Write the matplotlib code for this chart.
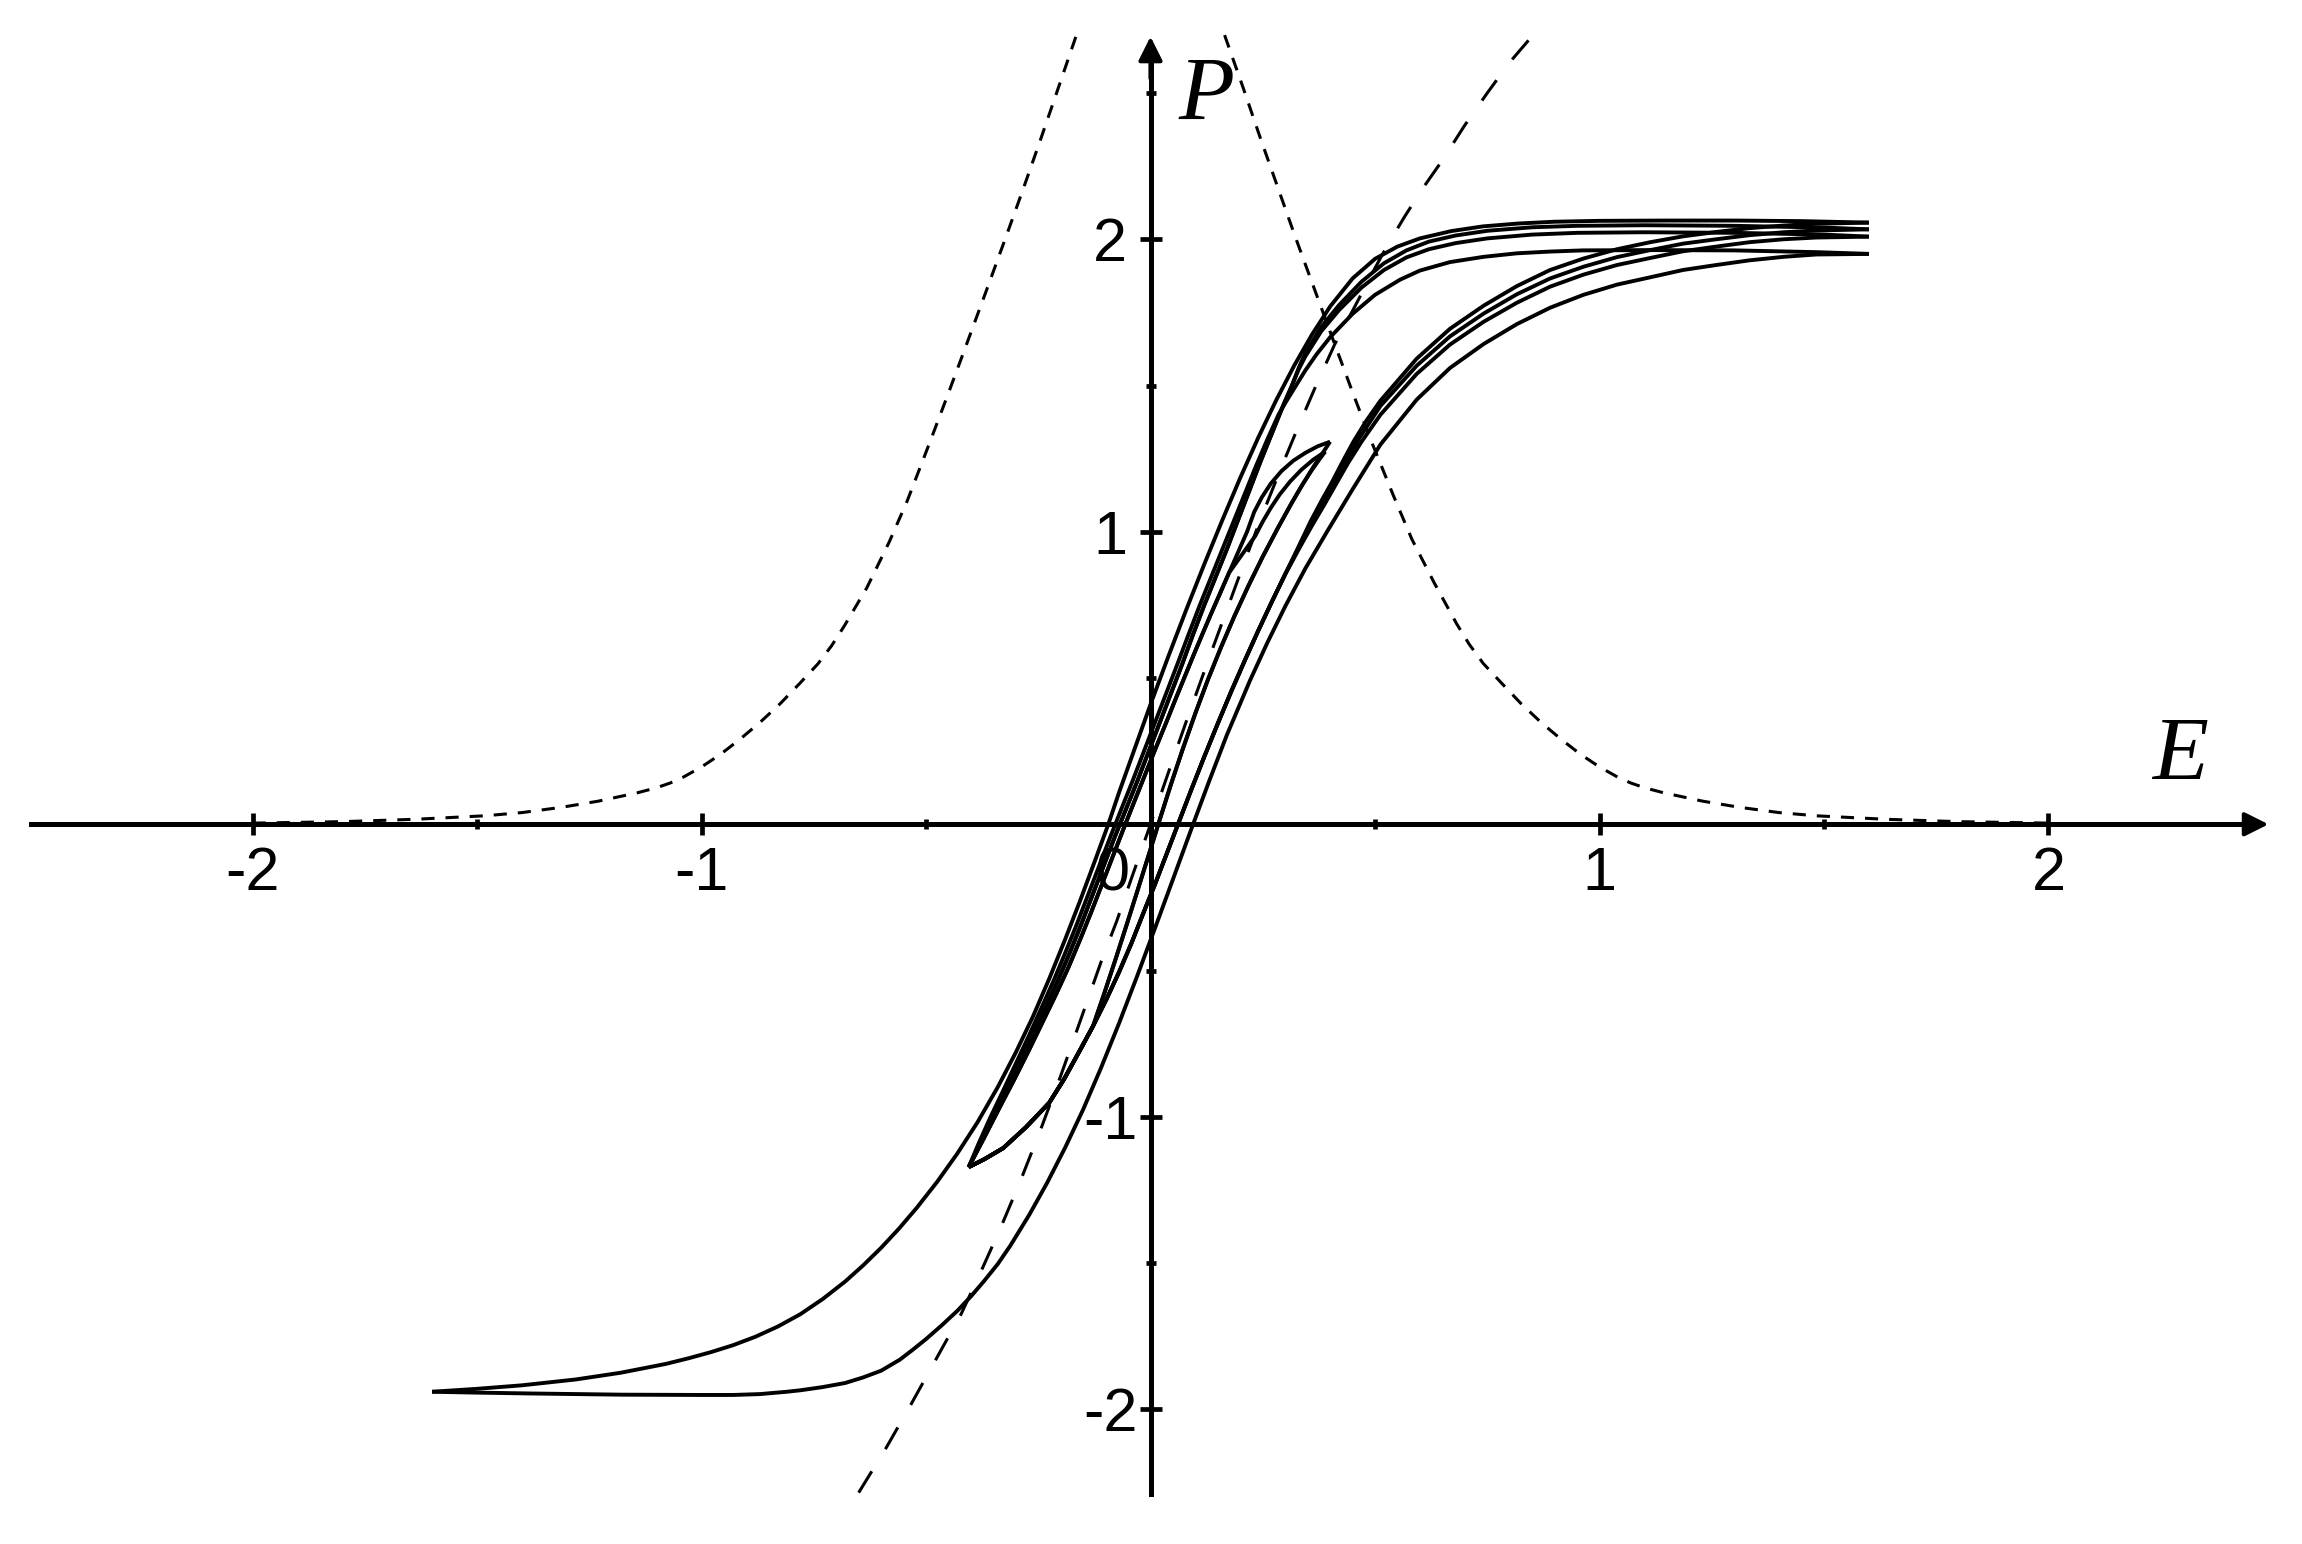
import matplotlib
matplotlib.use("Agg")
import matplotlib.pyplot as plt

plt.rcParams['font.family'] = ['Liberation Sans', 'DejaVu Sans']
plt.rcParams['axes.unicode_minus'] = False

# ---- values, as (E, P) ----

# short-dashed bell curve (its top runs off the P axis)
bell_left_E = [-2.000, -1.800, -1.639, -1.483, -1.400, -1.312, -1.230, -1.142, -1.100, -1.070,
               -1.042, -1.000, -0.957, -0.915, -0.870, -0.825, -0.781, -0.741, -0.710, -0.682,
               -0.632, -0.582, -0.542, -0.493, -0.453, -0.413, -0.365, -0.322, -0.284, -0.246,
               -0.207, -0.165]
bell_left_P = [0.004, 0.009, 0.017, 0.029, 0.040, 0.058, 0.079, 0.108, 0.125, 0.141,
               0.160, 0.196, 0.240, 0.290, 0.348, 0.412, 0.482, 0.548, 0.611, 0.678,
               0.808, 0.965, 1.105, 1.300, 1.462, 1.627, 1.827, 2.008, 2.170, 2.336,
               2.510, 2.698]
bell_right_E = [0.165, 0.207, 0.246, 0.284, 0.322, 0.365, 0.413, 0.453, 0.493, 0.542,
                0.582, 0.632, 0.682, 0.710, 0.741, 0.781, 0.825, 0.870, 0.915, 0.957,
                1.000, 1.042, 1.070, 1.100, 1.142, 1.230, 1.312, 1.400, 1.483, 1.639,
                1.800, 2.000]
bell_right_P = [2.698, 2.515, 2.340, 2.175, 2.010, 1.830, 1.630, 1.465, 1.305, 1.120,
                0.975, 0.825, 0.685, 0.615, 0.550, 0.484, 0.413, 0.348, 0.290, 0.240,
                0.196, 0.160, 0.141, 0.125, 0.108, 0.079, 0.058, 0.040, 0.029, 0.017,
                0.009, 0.004]

# long-dashed S curve
long_E = [-0.650, -0.590, -0.533, -0.480, -0.422, -0.375, -0.332, -0.290, -0.247, -0.200,
          -0.153, -0.110, -0.075, -0.045, 0.000, 0.045, 0.085, 0.129, 0.170, 0.210,
          0.250, 0.290, 0.329, 0.370, 0.410, 0.455, 0.496, 0.526, 0.565, 0.604,
          0.650, 0.700, 0.750, 0.800, 0.853]
long_P = [-2.285, -2.135, -1.982, -1.835, -1.675, -1.520, -1.373, -1.220, -1.053, -0.860,
          -0.657, -0.470, -0.330, -0.196, 0.000, 0.200, 0.375, 0.562, 0.733, 0.900,
          1.062, 1.215, 1.359, 1.505, 1.640, 1.770, 1.890, 1.975, 2.075, 2.169,
          2.270, 2.390, 2.500, 2.605, 2.700]

# outer loop: descending branch (1.6 -> -1.6) and ascending branch (-1.6 -> 1.6)
outer_desc_E = [1.600, 1.450, 1.300, 1.150, 1.000, 0.900, 0.820, 0.740, 0.670, 0.600,
                0.550, 0.500, 0.450, 0.400, 0.360, 0.320, 0.280, 0.240, 0.200, 0.160,
                0.120, 0.080, 0.040, 0.000, -0.040, -0.070, -0.094, -0.125, -0.157, -0.190,
                -0.225, -0.262, -0.300, -0.340, -0.385, -0.430, -0.475, -0.520, -0.560, -0.600,
                -0.640, -0.680, -0.730, -0.780, -0.830, -0.880, -0.930, -0.980, -1.030, -1.080,
                -1.180, -1.280, -1.400, -1.500, -1.600]
outer_desc_P = [2.057, 2.062, 2.064, 2.064, 2.063, 2.060, 2.054, 2.044, 2.028, 2.003,
                1.975, 1.933, 1.866, 1.770, 1.675, 1.568, 1.450, 1.322, 1.185, 1.040,
                0.890, 0.735, 0.575, 0.410, 0.238, 0.109, 0.000, -0.130, -0.262, -0.393,
                -0.526, -0.658, -0.780, -0.898, -1.018, -1.125, -1.222, -1.310, -1.382, -1.448,
                -1.508, -1.563, -1.623, -1.675, -1.717, -1.752, -1.781, -1.805, -1.826, -1.845,
                -1.875, -1.898, -1.918, -1.930, -1.940]
outer_asc_E = [-1.600, -1.500, -1.376, -1.177, -1.000, -0.930, -0.870, -0.840, -0.810, -0.780,
               -0.730, -0.680, -0.640, -0.600, -0.580, -0.558, -0.530, -0.500, -0.465, -0.430,
               -0.400, -0.371, -0.340, -0.312, -0.270, -0.230, -0.190, -0.150, -0.110, -0.070,
               -0.030, 0.010, 0.050, 0.090, 0.130, 0.170, 0.222, 0.260, 0.300, 0.345,
               0.393, 0.450, 0.512, 0.593, 0.667, 0.742, 0.816, 0.890, 0.964, 1.039,
               1.113, 1.186, 1.260, 1.334, 1.410, 1.483, 1.600]
outer_asc_P = [-1.940, -1.943, -1.946, -1.950, -1.951, -1.951, -1.948, -1.944, -1.940, -1.935,
               -1.924, -1.910, -1.891, -1.868, -1.850, -1.830, -1.797, -1.760, -1.713, -1.663,
               -1.614, -1.562, -1.503, -1.440, -1.335, -1.225, -1.105, -0.975, -0.832, -0.680,
               -0.520, -0.355, -0.188, -0.020, 0.145, 0.305, 0.493, 0.620, 0.745, 0.875,
               1.000, 1.145, 1.298, 1.452, 1.560, 1.642, 1.710, 1.766, 1.810, 1.845,
               1.870, 1.895, 1.912, 1.928, 1.940, 1.948, 1.950]

# descending branches leaving E = 1.6 (upper parts)
d1_top_E = [1.600, 1.500, 1.300, 1.100, 0.950, 0.850, 0.750, 0.680, 0.620, 0.570,
            0.520, 0.470, 0.420, 0.380, 0.345, 0.330]
d1_top_P = [2.009, 2.016, 2.022, 2.024, 2.022, 2.016, 2.003, 1.987, 1.966, 1.938,
            1.895, 1.835, 1.758, 1.685, 1.600, 1.555]
d2_top_E = [1.600, 1.500, 1.300, 1.100, 0.950, 0.850, 0.750, 0.680, 0.620, 0.570,
            0.520, 0.470, 0.420, 0.380, 0.345, 0.330]
d2_top_P = [2.034, 2.040, 2.046, 2.048, 2.046, 2.041, 2.029, 2.013, 1.992, 1.962,
            1.918, 1.855, 1.775, 1.700, 1.612, 1.560]
d3_top_E = [1.600, 1.483, 1.300, 1.113, 0.964, 0.890, 0.816, 0.742, 0.667, 0.600,
            0.556, 0.500, 0.450, 0.400, 0.370, 0.345, 0.320, 0.300]
d3_top_P = [1.950, 1.956, 1.962, 1.963, 1.962, 1.958, 1.952, 1.940, 1.922, 1.893,
            1.862, 1.810, 1.745, 1.665, 1.607, 1.552, 1.490, 1.440]

# descending band down to the inner turning point (-0.405, -1.172)
band_a_E = [0.315, 0.295, 0.270, 0.245, 0.220, 0.195, 0.170, 0.145, 0.120, 0.095,
            0.070, 0.045, 0.020, -0.005, -0.030, -0.055, -0.080, -0.105, -0.130, -0.155,
            -0.180, -0.205, -0.230, -0.260, -0.290, -0.320, -0.350, -0.378, -0.405]
band_a_P = [1.500, 1.430, 1.335, 1.240, 1.140, 1.040, 0.940, 0.845, 0.750, 0.650,
            0.545, 0.445, 0.345, 0.245, 0.145, 0.050, -0.045, -0.145, -0.245, -0.345,
            -0.440, -0.530, -0.615, -0.715, -0.810, -0.905, -1.000, -1.090, -1.172]
band_b_E = [0.285, 0.260, 0.235, 0.210, 0.185, 0.160, 0.135, 0.110, 0.085, 0.060,
            0.035, 0.010, -0.015, -0.040, -0.065, -0.090, -0.115, -0.140, -0.165, -0.190,
            -0.215, -0.242, -0.270, -0.299, -0.328, -0.357, -0.383, -0.405]
band_b_P = [1.400, 1.315, 1.225, 1.130, 1.035, 0.940, 0.845, 0.750, 0.650, 0.548,
            0.448, 0.348, 0.248, 0.148, 0.052, -0.045, -0.145, -0.245, -0.345, -0.440,
            -0.532, -0.625, -0.720, -0.815, -0.910, -1.003, -1.092, -1.172]
band_c_E = [0.215, 0.195, 0.175, 0.155, 0.135, 0.115, 0.095, 0.075, 0.055, 0.035,
            0.012, -0.012, -0.036, -0.060, -0.084, -0.108, -0.132, -0.157, -0.183, -0.210,
            -0.240, -0.270, -0.302, -0.335, -0.370, -0.405]
band_c_P = [1.000, 0.930, 0.860, 0.790, 0.720, 0.648, 0.575, 0.500, 0.425, 0.348,
            0.262, 0.170, 0.078, -0.015, -0.110, -0.205, -0.300, -0.395, -0.490, -0.580,
            -0.675, -0.770, -0.868, -0.965, -1.070, -1.172]

# ascending from the inner turning point
turn_up_E = [-0.405, -0.370, -0.328, -0.277, -0.226, -0.192, -0.158, -0.128, -0.098, -0.070,
             -0.042, -0.015]
turn_up_P = [-1.172, -1.145, -1.107, -1.035, -0.953, -0.870, -0.775, -0.690, -0.598, -0.505,
             -0.405, -0.300]
rise_E = [0.010, 0.035, 0.060, 0.090, 0.120, 0.150, 0.180, 0.210, 0.240, 0.270, 0.300]
rise_P = [-0.205, -0.105, -0.005, 0.115, 0.232, 0.345, 0.455, 0.560, 0.662, 0.760, 0.855]
rise1_E = [0.330, 0.360, 0.388, 0.412, 0.440, 0.470, 0.512, 0.593, 0.667, 0.742,
           0.816, 0.890, 0.964, 1.039, 1.113, 1.186, 1.260, 1.334, 1.410, 1.483, 1.600]
rise1_P = [0.940, 1.022, 1.095, 1.160, 1.235, 1.308, 1.400, 1.540, 1.640, 1.718,
           1.783, 1.838, 1.879, 1.912, 1.936, 1.959, 1.975, 1.990, 2.000, 2.006, 2.009]
rise2_E = [0.330, 0.359, 0.386, 0.410, 0.435, 0.465, 0.512, 0.593, 0.667, 0.742,
           0.816, 0.890, 0.964, 1.039, 1.113, 1.186, 1.260, 1.334, 1.410, 1.483, 1.600]
rise2_P = [0.943, 1.030, 1.105, 1.168, 1.240, 1.320, 1.430, 1.568, 1.668, 1.746,
           1.812, 1.866, 1.906, 1.939, 1.963, 1.985, 2.000, 2.014, 2.024, 2.030, 2.034]
rise3_E = [0.329, 0.357, 0.383, 0.405, 0.428, 0.452, 0.480, 0.512, 0.593, 0.667,
           0.742, 0.816, 0.890, 0.964, 1.039, 1.113, 1.186, 1.260, 1.334, 1.410,
           1.483, 1.600]
rise3_P = [0.947, 1.037, 1.112, 1.172, 1.240, 1.308, 1.378, 1.448, 1.592, 1.694,
           1.773, 1.840, 1.895, 1.934, 1.966, 1.990, 2.010, 2.025, 2.038, 2.047,
           2.053, 2.057]

# small loops turning near E = 0.4
lens_rise_E = [-0.103, -0.078, -0.053, -0.028, -0.003, 0.020, 0.045, 0.072, 0.100, 0.128,
               0.157, 0.187, 0.218, 0.250, 0.283, 0.315]
lens_rise_P = [-0.578, -0.462, -0.343, -0.222, -0.100, 0.013, 0.134, 0.258, 0.380, 0.495,
               0.605, 0.712, 0.815, 0.915, 1.011, 1.100]
lens1_up_E = [0.340, 0.362, 0.382, 0.400]
lens1_up_P = [1.165, 1.220, 1.266, 1.308]
lens2_up_E = [0.337, 0.358, 0.375, 0.389]
lens2_up_P = [1.158, 1.208, 1.245, 1.274]
lens1_down_E = [0.400, 0.372, 0.345, 0.318, 0.292, 0.268, 0.248, 0.231]
lens1_down_P = [1.308, 1.292, 1.270, 1.243, 1.208, 1.165, 1.118, 1.068]
lens2_down_E = [0.389, 0.362, 0.336, 0.311, 0.288, 0.268, 0.250, 0.233]
lens2_down_P = [1.274, 1.246, 1.212, 1.172, 1.128, 1.082, 1.035, 0.985]

x_major = [-2, -1, 1, 2]
x_major_text = ['-2', '-1', '1', '2']
y_major = [-2, -1, 1, 2]
y_major_text = ['-2', '-1', '1', '2']
x_minor = [-1.5, -0.5, 0.5, 1.5]
y_minor = [-1.5, -0.5, 0.5, 1.5, 2.5]

# ---- figure ----
fig = plt.figure(figsize=(23.02, 15.44), dpi=100)
ax = fig.add_axes([0, 0, 1, 1])
ax.set_xlim(-2.5624, 2.5646)
ax.set_ylim(-2.4605, 2.818)

ink = 'black'
lw_curve = 2.8
lw_dash = 2.2

ax.plot(bell_left_E, bell_left_P, color=ink, lw=lw_dash, dashes=(4.3, 3.6))
ax.plot(bell_right_E, bell_right_P, color=ink, lw=lw_dash, dashes=(4.3, 3.6))
ax.plot(long_E, long_P, color=ink, lw=lw_dash, dashes=(8.2, 8.5))

branches = [
    (outer_desc_E, outer_desc_P),
    (outer_asc_E, outer_asc_P),
    (d1_top_E + band_a_E, d1_top_P + band_a_P),
    (d2_top_E + band_a_E, d2_top_P + band_a_P),
    (d3_top_E + band_b_E, d3_top_P + band_b_P),
    (lens1_down_E + band_c_E, lens1_down_P + band_c_P),
    (lens2_down_E + band_c_E[2:], lens2_down_P + band_c_P[2:]),
    (turn_up_E + rise_E + rise1_E, turn_up_P + rise_P + rise1_P),
    (turn_up_E + rise_E + rise2_E, turn_up_P + rise_P + rise2_P),
    (turn_up_E + rise_E + rise3_E, turn_up_P + rise_P + rise3_P),
    (turn_up_E[:8] + lens_rise_E + lens1_up_E, turn_up_P[:8] + lens_rise_P + lens1_up_P),
    (turn_up_E[:8] + lens_rise_E + lens2_up_E, turn_up_P[:8] + lens_rise_P + lens2_up_P),
]
for e, p in branches:
    ax.plot(e, p, color=ink, lw=lw_curve, solid_capstyle='butt')

# axes through the origin, with arrow heads
ax.spines['top'].set_visible(False)
ax.spines['right'].set_visible(False)
ax.spines['left'].set_position(('data', 0))
ax.spines['bottom'].set_position(('data', 0))
ax.spines['bottom'].set_bounds(-2.493, 2.45)
ax.spines['left'].set_bounds(-2.291, 2.64)
for s in ['left', 'bottom']:
    ax.spines[s].set_linewidth(3.6)
    ax.spines[s].set_color(ink)

arrow = dict(arrowstyle='-|>,head_length=0.72,head_width=0.36', lw=3.0, color=ink,
             shrinkA=0, shrinkB=0, mutation_scale=20)
ax.annotate('', xy=(2.490, 0), xytext=(2.38, 0), arrowprops=arrow)
ax.annotate('', xy=(0, 2.693), xytext=(0, 2.55), arrowprops=arrow)

ax.set_xticks(x_major)
ax.set_xticklabels(x_major_text)
ax.set_yticks(y_major)
ax.set_yticklabels(y_major_text)
ax.set_xticks(x_minor, minor=True)
ax.set_yticks(y_minor, minor=True)
ax.tick_params(which='major', direction='inout', length=15.8, width=3.4, labelsize=44)
ax.tick_params(which='minor', direction='inout', length=7.9, width=3.4)
ax.tick_params(axis='x', which='major', pad=8)
ax.tick_params(axis='y', which='major', pad=21)
for lab in ax.get_yticklabels():
    lab.set_horizontalalignment('center')

# the "0" sits left of the P axis
ax.annotate('0', xy=(-0.085, 0), xytext=(0, -(7.9 + 8)), textcoords='offset points',
            ha='center', va='top', fontsize=44)

ax.text(0.124, 2.485, 'P', fontfamily='Liberation Serif', style='italic', fontsize=66,
        ha='center', va='center')
ax.text(2.292, 0.227, 'E', fontfamily='Liberation Serif', style='italic', fontsize=66,
        ha='center', va='center')

fig.savefig('out.png', dpi=100)
